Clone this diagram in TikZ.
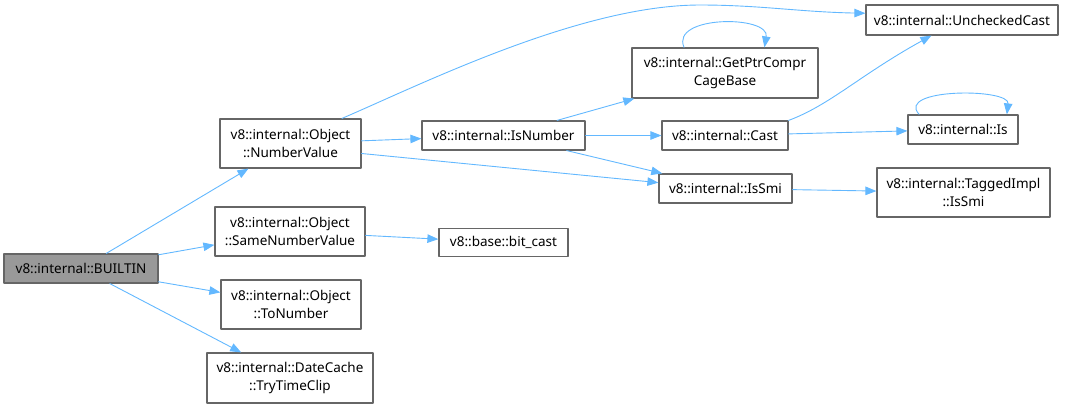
\documentclass[tikz,border=0pt]{standalone}
\usepackage{fontspec}
\setmainfont{Noto Sans}
\usetikzlibrary{arrows.meta}
\definecolor{bordo}{HTML}{666666}
\definecolor{grigio}{HTML}{999999}
\definecolor{celeste}{HTML}{63B8FF}

\begin{document}
\begin{tikzpicture}[
    x=1pt, y=-1pt,
    line cap=round,
    line join=round,
    nodo/.style     = {draw=bordo, line width=1.2pt, fill=white, inner sep=0pt,
                       align=center, font=\fontsize{13.5}{18.5}\selectfont},
    radice/.style   = {nodo, fill=grigio},
    chiamata/.style = {draw=celeste, line width=0.9pt,
                       -{Triangle[length=11pt,width=8.5pt]}}
]
\useasboundingbox (0,0) rectangle (1066,408);

% ---- funzione di partenza ----
\node[radice, minimum width=154, minimum height=29] (builtin) at (81,268.5) {v8::internal::BUILTIN};

% ---- primo livello ----
\node[nodo, minimum width=141, minimum height=49] (numval)  at (290.5,143.5) {v8::internal::Object\\::NumberValue};
\node[nodo, minimum width=150, minimum height=49] (samenum) at (290,231.5)   {v8::internal::Object\\::SameNumberValue};
\node[nodo, minimum width=140, minimum height=49] (tonum)   at (291,304.5)   {v8::internal::Object\\::ToNumber};
\node[nodo, minimum width=166, minimum height=50] (timeclip) at (290,378)    {v8::internal::DateCache\\::TryTimeClip};

% ---- secondo livello ----
\node[nodo, minimum width=163, minimum height=29] (isnumber) at (503.5,135.5) {v8::internal::IsNumber};
\node[nodo, minimum width=129, minimum height=28] (bitcast)  at (503.5,242.5) {v8::base::bit\_cast};

% ---- terzo livello ----
\node[nodo, minimum width=186, minimum height=50] (cagebase) at (725,73)    {v8::internal::GetPtrCompr\\CageBase};
\node[nodo, minimum width=126, minimum height=29] (cast)     at (725,135.5) {v8::internal::Cast};
\node[nodo, minimum width=133, minimum height=29] (issmi)    at (725.5,188.5) {v8::internal::IsSmi};

% ---- quarto livello ----
\node[nodo, minimum width=192, minimum height=30] (unchecked) at (962,20)     {v8::internal::UncheckedCast};
\node[nodo, minimum width=110, minimum height=29] (is)        at (963,129.5)  {v8::internal::Is};
\node[nodo, minimum width=173, minimum height=49] (tagged)    at (963.5,192.5) {v8::internal::TaggedImpl\\::IsSmi};

% ---- chiamate dalla radice ----
\draw[chiamata] (builtin) -- (numval);
\draw[chiamata] (builtin) -- (samenum);
\draw[chiamata] (builtin) -- (tonum);
\draw[chiamata] (builtin) -- (timeclip);

% ---- chiamate di Object ----
\draw[chiamata] (numval.26) .. controls (420,85) and (580,5) .. (700,5)
    .. controls (760,5) and (800,12) .. (unchecked.176);
\draw[chiamata] (numval) -- (isnumber);
\draw[chiamata] (numval.-8.5) -- (issmi.175.3);
\draw[chiamata] (samenum) -- (bitcast);

% ---- chiamate di IsNumber ----
\draw[chiamata] (isnumber) -- (cagebase);
\draw[chiamata] (isnumber) -- (cast);
\draw[chiamata] (isnumber) -- (issmi);

% ---- chiamate di Cast e IsSmi ----
\draw[chiamata] (cast.north east) .. controls (830,105) and (860,75) .. (unchecked.207);
\draw[chiamata] (cast) -- (is);
\draw[chiamata] (issmi) -- (tagged);

% ---- ricorsioni ----
\draw[chiamata] (cagebase.148.6) .. controls (670,15) and (770,15) .. (cagebase.33.3);
\draw[chiamata] (is.161) .. controls (895,88) and (1010,88) .. (is.19.9);

\end{tikzpicture}
\end{document}
